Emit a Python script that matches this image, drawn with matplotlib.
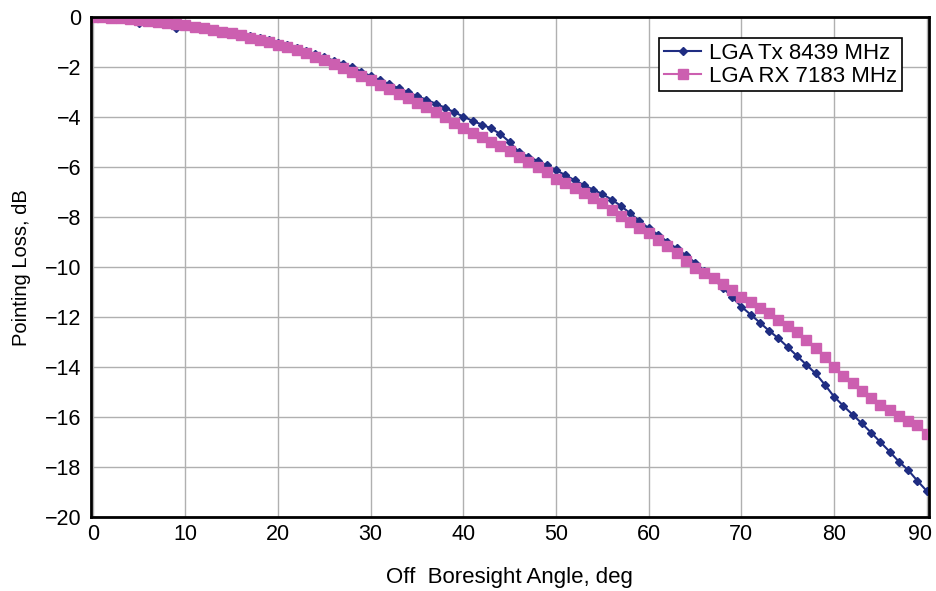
import matplotlib
matplotlib.use('Agg')
import matplotlib.pyplot as plt
import matplotlib.transforms as mtransforms
import numpy as np

# off boresight angle, one point per degree
angle = np.arange(0, 91)

tx_8439 = [
    0.00, -0.01, -0.02, -0.05, -0.10, -0.25, -0.15, -0.18, -0.25, -0.42,
    -0.32, -0.36, -0.42, -0.48, -0.55, -0.62, -0.68, -0.74, -0.82, -0.92,
    -1.02, -1.12, -1.24, -1.36, -1.48, -1.60, -1.74, -1.86, -2.00, -2.18,
    -2.36, -2.52, -2.68, -2.84, -3.00, -3.16, -3.30, -3.46, -3.62, -3.80,
    -3.98, -4.15, -4.30, -4.45, -4.68, -5.00, -5.40, -5.58, -5.75, -5.93,
    -6.12, -6.32, -6.52, -6.72, -6.90, -7.08, -7.30, -7.55, -7.85, -8.15,
    -8.45, -8.70, -8.98, -9.25, -9.52, -9.82, -10.15, -10.48, -10.82, -11.20,
    -11.58, -11.90, -12.22, -12.55, -12.85, -13.20, -13.55, -13.90, -14.25, -14.70,
    -15.18, -15.55, -15.90, -16.25, -16.62, -17.00, -17.38, -17.78, -18.12, -18.55,
    -18.95,
]

rx_7183 = [
    0.00, 0.00, -0.02, -0.04, -0.07, -0.12, -0.15, -0.18, -0.22, -0.27,
    -0.32, -0.38, -0.44, -0.51, -0.58, -0.65, -0.73, -0.82, -0.90, -1.00,
    -1.10, -1.20, -1.32, -1.44, -1.58, -1.72, -1.88, -2.02, -2.18, -2.34,
    -2.52, -2.70, -2.88, -3.06, -3.24, -3.42, -3.60, -3.80, -4.00, -4.22,
    -4.44, -4.62, -4.80, -4.98, -5.16, -5.36, -5.58, -5.78, -5.98, -6.20,
    -6.48, -6.65, -6.85, -7.05, -7.25, -7.45, -7.70, -7.95, -8.20, -8.42,
    -8.65, -8.90, -9.15, -9.45, -9.75, -10.02, -10.25, -10.45, -10.68, -10.92,
    -11.18, -11.40, -11.62, -11.85, -12.10, -12.35, -12.60, -12.90, -13.25, -13.60,
    -14.00, -14.35, -14.65, -14.95, -15.25, -15.50, -15.72, -15.95, -16.15, -16.30,
    -16.68,
]

x_ticks = list(range(0, 91, 10))
y_ticks = list(range(-20, 1, 2))

plt.rcParams['font.family'] = ['Liberation Sans', 'DejaVu Sans']

fig = plt.figure(figsize=(9.37, 5.91), dpi=100)
ax = fig.add_axes([0.097, 0.125, 0.894, 0.846])

ax.plot(angle, tx_8439, color='#1f2d82', lw=1.5, marker='D', ms=4.5,
        label='LGA Tx 8439 MHz')
ax.plot(angle, rx_7183, color='#cc5fb0', lw=1.5, marker='s', ms=6.5,
        label='LGA RX 7183 MHz')

ax.set_xlim(-0.2, 90.2)
ax.set_ylim(-20, 0)
ax.set_xticks(x_ticks)
ax.set_yticks(y_ticks)
ax.tick_params(length=0, labelsize=15.5)
ax.tick_params(axis='y', pad=7)
ax.tick_params(axis='x', pad=5)
ax.grid(True, color='#b0b0b0', lw=1)
ax.set_axisbelow(True)
for s in ax.spines.values():
    s.set_linewidth(2)
    s.set_color('black')

# last x label sits against the right edge, like the original
last = ax.xaxis.get_major_ticks()[-1].label1
last.set_horizontalalignment('right')
last.set_transform(last.get_transform() +
                   mtransforms.ScaledTranslation(4 / 72, 0, fig.dpi_scale_trans))

ax.set_xlabel('Off  Boresight Angle, deg', fontsize=16, labelpad=16)
ax.set_ylabel('Pointing Loss, dB', fontsize=14.5, labelpad=10)

leg = ax.legend(loc='upper right', bbox_to_anchor=(0.968, 0.958), fontsize=16,
                fancybox=False, framealpha=1, edgecolor='black',
                borderpad=0.2, labelspacing=0.1, handlelength=1.7,
                handletextpad=0.35, borderaxespad=0)
leg.get_frame().set_linewidth(1.2)

fig.savefig('out.png', dpi=100)
